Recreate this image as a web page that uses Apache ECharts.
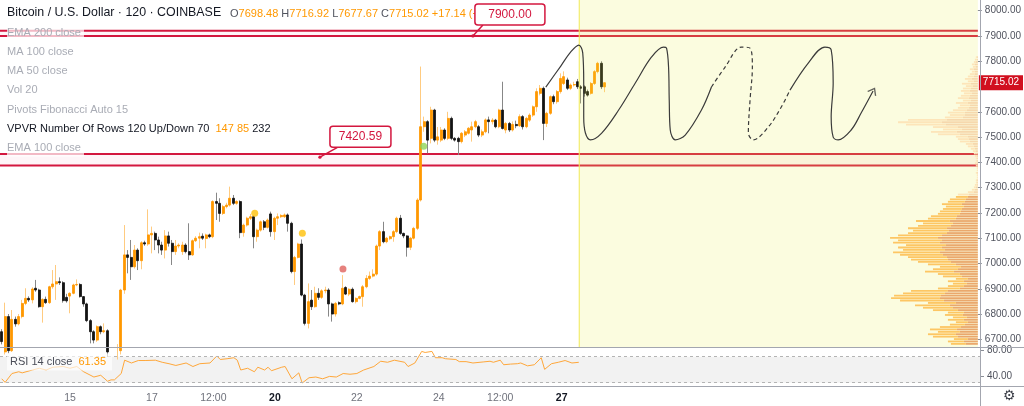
<!DOCTYPE html>
<html>
<head>
<meta charset="utf-8">
<script src="https://cdn.jsdelivr.net/npm/echarts@6/dist/echarts.min.js"></script>
<style>
  html, body { margin: 0; padding: 0; background: #fff; }
  #chart { width: 1024px; height: 406px; }
</style>
</head>
<body>
<div id="chart"></div>
<script>
// BTCUSD 2h, Coinbase, Apr 13 - Apr 27 2020, plus forecast space on the right
const barCount = 287;
const startTime = Date.UTC(2020, 3, 13, 8);
const timeTickIndex = [20, 44, 62, 80, 104, 128, 146, 164];
const timeTickText = ['15', '17', '12:00', '20', '22', '24', '12:00', '27'];
const boldTicks = ['20', '27'];
const priceTicks = [6700, 6800, 6900, 7000, 7100, 7200, 7300, 7400, 7500, 7600, 7800, 7900, 8000];
const rsiTicks = [40, 80];

// [open, high, low, close]
const candles = [
  [6730, 6740, 6680, 6691], [6650, 6845, 6640, 6790], [6790, 6800, 6645, 6655], [6655, 6816, 6650, 6779],
  [6779, 6790, 6750, 6761], [6761, 6800, 6755, 6790], [6790, 6856, 6783, 6842], [6842, 6902, 6835, 6862],
  [6862, 6870, 6848, 6856], [6856, 6906, 6842, 6899], [6902, 6935, 6888, 6895], [6895, 6900, 6825, 6829],
  [6829, 6862, 6766, 6858], [6858, 6869, 6840, 6845], [6845, 6912, 6840, 6908], [6908, 6974, 6900, 6919],
  [6919, 6994, 6856, 6928], [6928, 6945, 6915, 6924], [6924, 6930, 6845, 6853], [6866, 6880, 6845, 6852],
  [6871, 6886, 6803, 6882], [6882, 6920, 6878, 6915], [6915, 6937, 6910, 6917], [6917, 6922, 6865, 6869],
  [6869, 6871, 6829, 6840], [6840, 6845, 6768, 6774], [6774, 6780, 6684, 6730], [6730, 6736, 6684, 6697],
  [6697, 6755, 6690, 6750], [6750, 6755, 6720, 6730], [6730, 6763, 6724, 6734], [6734, 6740, 6630, 6650],
  [6650, 6660, 6600, 6620], [6620, 6655, 6600, 6640], [6640, 6681, 6620, 6655], [6655, 6900, 6640, 6895],
  [6895, 7152, 6880, 7034], [7034, 7053, 6961, 7024], [7024, 7093, 6935, 6987], [6987, 7073, 6980, 7053],
  [7053, 7060, 6974, 7011], [7011, 7088, 6977, 7082], [7082, 7090, 7070, 7077], [7077, 7214, 7070, 7113],
  [7113, 7146, 7040, 7119], [7119, 7126, 7053, 7093], [7093, 7106, 7040, 7073], [7073, 7086, 7034, 7053],
  [7053, 7132, 7020, 7109], [7109, 7126, 7067, 7080], [7080, 7093, 6994, 7047], [7047, 7093, 7034, 7069],
  [7069, 7080, 7060, 7073], [7047, 7086, 7034, 7073], [7073, 7080, 7040, 7047], [7047, 7159, 7014, 7034],
  [7034, 7095, 7030, 7090], [7090, 7108, 7085, 7100], [7100, 7122, 7060, 7106], [7108, 7119, 7093, 7100],
  [7099, 7118, 7060, 7113], [7113, 7118, 7100, 7106], [7106, 7250, 7100, 7245], [7245, 7280, 7172, 7238],
  [7238, 7258, 7165, 7198], [7198, 7232, 7192, 7225], [7225, 7240, 7218, 7231], [7231, 7304, 7225, 7258],
  [7258, 7271, 7231, 7238], [7238, 7250, 7232, 7245], [7245, 7250, 7100, 7122], [7122, 7158, 7106, 7152],
  [7152, 7185, 7146, 7179], [7179, 7196, 7172, 7185], [7185, 7190, 7060, 7106], [7106, 7138, 7086, 7132],
  [7132, 7170, 7126, 7165], [7165, 7172, 7132, 7143], [7143, 7178, 7138, 7172], [7196, 7205, 7106, 7126],
  [7126, 7185, 7093, 7179], [7179, 7198, 7152, 7185], [7185, 7195, 7180, 7190], [7185, 7198, 7180, 7192],
  [7192, 7198, 7126, 7159], [7159, 7165, 6961, 6968], [6968, 7030, 6915, 7024], [7024, 7082, 7020, 7077],
  [7077, 7095, 6870, 6875], [6875, 6880, 6755, 6763], [6763, 6921, 6743, 6849], [6855, 6895, 6816, 6829],
  [6829, 6908, 6825, 6882], [6882, 6902, 6856, 6866], [6866, 6898, 6860, 6892], [6892, 6908, 6882, 6895],
  [6895, 6902, 6790, 6840], [6840, 6845, 6770, 6800], [6800, 6848, 6790, 6842], [6845, 6850, 6835, 6840],
  [6840, 6954, 6835, 6902], [6905, 6910, 6875, 6879], [6879, 6902, 6871, 6898], [6898, 6905, 6845, 6849],
  [6849, 6866, 6842, 6862], [6862, 6873, 6858, 6869], [6869, 6915, 6829, 6908], [6908, 6954, 6902, 6941],
  [6941, 6968, 6935, 6950], [6950, 6977, 6945, 6958], [6958, 7075, 6952, 7069], [7069, 7132, 7053, 7126],
  [7126, 7165, 7080, 7086], [7086, 7105, 7080, 7100], [7098, 7110, 7092, 7106], [7106, 7132, 7086, 7126],
  [7126, 7185, 7120, 7179], [7179, 7192, 7113, 7119], [7119, 7122, 7100, 7109], [7109, 7112, 7027, 7064],
  [7064, 7105, 7053, 7100], [7100, 7145, 7095, 7139], [7139, 7258, 7132, 7251], [7251, 7779, 7245, 7541],
  [7541, 7581, 7521, 7561], [7561, 7567, 7436, 7488], [7495, 7620, 7475, 7607], [7607, 7612, 7480, 7488],
  [7488, 7540, 7470, 7501], [7488, 7540, 7480, 7528], [7528, 7535, 7488, 7495], [7495, 7600, 7488, 7574],
  [7574, 7581, 7488, 7495], [7495, 7500, 7482, 7488], [7495, 7501, 7429, 7482], [7482, 7520, 7475, 7515],
  [7508, 7528, 7500, 7521], [7515, 7540, 7510, 7535], [7528, 7561, 7482, 7541], [7541, 7568, 7535, 7561],
  [7541, 7548, 7500, 7508], [7508, 7530, 7500, 7521], [7521, 7574, 7515, 7568], [7568, 7581, 7515, 7561],
  [7561, 7575, 7550, 7567], [7567, 7572, 7535, 7541], [7541, 7612, 7535, 7607], [7607, 7719, 7530, 7534],
  [7528, 7560, 7515, 7554], [7554, 7560, 7520, 7528], [7528, 7562, 7522, 7550], [7550, 7565, 7535, 7545],
  [7545, 7590, 7540, 7581], [7581, 7587, 7530, 7541], [7541, 7580, 7535, 7574], [7567, 7594, 7560, 7587],
  [7587, 7625, 7580, 7620], [7620, 7693, 7600, 7680], [7673, 7706, 7665, 7693], [7693, 7700, 7488, 7554],
  [7554, 7600, 7540, 7594], [7594, 7665, 7588, 7660], [7660, 7668, 7630, 7640], [7640, 7686, 7632, 7680],
  [7680, 7752, 7672, 7732], [7712, 7760, 7706, 7739], [7726, 7735, 7686, 7693], [7693, 7712, 7686, 7706],
  [7706, 7719, 7700, 7708], [7719, 7730, 7690, 7699], [7699, 7706, 7633, 7693], [7699, 7705, 7660, 7673],
  [7680, 7688, 7660, 7666], [7673, 7718, 7668, 7712], [7712, 7765, 7706, 7759], [7759, 7798, 7752, 7792],
  [7792, 7800, 7690, 7699], [7698.48, 7716.92, 7677.67, 7715.02]
];
const lastPrice = 7715.02;

// RSI 14: [bar index, value]
const rsiPoints = [
  [0, 36.0], [1, 30.5], [3, 44.1], [5, 46.8], [6, 45.1], [9, 49.5], [11, 52.2], [13, 49.5], [15, 53.8],
  [18, 54.9], [20, 52.2], [22, 54.9], [24, 46.8], [27, 38.7], [29, 41.4], [31, 32.2], [32, 34.3], [33, 34.3],
  [35, 44.1], [36, 64.6], [38, 60.3], [40, 64.1], [42, 64.1], [45, 64.6], [47, 61.4], [49, 59.2], [51, 56.5],
  [54, 60.3], [56, 54.9], [58, 59.2], [61, 60.3], [63, 71.1], [64, 65.7], [66, 66.8], [68, 68.4], [69, 64.6],
  [70, 49.5], [72, 52.2], [74, 46.8], [75, 53.8], [77, 49.5], [78, 53.8], [79, 48.4], [82, 53.8], [83, 54.9],
  [85, 36.0], [87, 45.1], [88, 29.5], [90, 37.6], [92, 38.7], [94, 36.0], [96, 39.7], [98, 38.7], [100, 44.1],
  [102, 43.0], [104, 44.1], [106, 49.5], [109, 54.9], [111, 63.0], [113, 61.4], [115, 64.6], [118, 61.4],
  [119, 54.9], [121, 60.3], [123, 78.1], [124, 76.5], [126, 78.1], [127, 68.4], [129, 68.4], [130, 66.8],
  [133, 65.7], [134, 62.4], [136, 62.4], [138, 60.3], [141, 61.9], [143, 63.0], [144, 61.4], [146, 64.6],
  [147, 57.6], [149, 58.6], [151, 59.2], [152, 60.3], [154, 55.9], [156, 57.6], [158, 68.4], [159, 50.5],
  [161, 59.2], [163, 61.4], [165, 64.1], [167, 60.3], [169, 61.35]
];

// pivot markers: [bar position, price, kind]
const pivots = [[74.77, 7198.5, 'high'], [88.74, 7119.5, 'high'], [100.66, 6978, 'low'], [124.35, 7464, 'up']];

// drawn zones (rectangles) and callouts
const zones = [[7900, 7921], [7388, 7433]];
const callouts = [
  { text: '7900.00', at: 138.8, price: 7900 },
  { text: '7420.59', at: 93.9, price: 7420.59 }
];
const forecastStart = 169.86;

// forecast path drawn by hand: [bar position, price]
const waveA = [
  [160.19, 7698], [164.59, 7781], [167.52, 7837], [169.86, 7864], [171.03, 7833], [171.32, 7714],
  [171.32, 7580], [171.82, 7516], [173.29, 7489], [176.6, 7516], [181.57, 7607], [186.46, 7714],
  [191.24, 7817], [194.75, 7856], [195.63, 7852], [196.22, 7777], [196.42, 7647], [196.72, 7528],
  [198.18, 7489], [201.11, 7508], [205.88, 7607], [208.81, 7698]
];
const waveB = [
  [208.81, 7698], [212.82, 7777], [217.59, 7856], [220.14, 7852], [220.82, 7777], [220.14, 7647],
  [219.64, 7516], [221.11, 7489], [225.5, 7540], [229.31, 7619], [231.86, 7686]
];
const waveC = [
  [231.86, 7686], [237.22, 7793], [242.11, 7856], [243.95, 7845], [244.54, 7714], [243.95, 7580],
  [244.54, 7500], [246.0, 7489], [249.81, 7528], [252.74, 7595], [256.25, 7682]
];

// visible range volume profile, 120 rows from the bottom
const vpLow = 6676;
const vpStep = 9.53;
const vaTop = 7275;
const vpUp = [
  15, 16, 14, 25, 28, 22, 27, 21, 15, 12, 16, 14, 18, 16, 25, 30, 35, 28, 44, 49,
  47, 42, 37, 22, 16, 14, 16, 12, 19, 22, 29, 25, 21, 28, 33, 37, 39, 43, 47, 42,
  44, 40, 47, 44, 48, 44, 39, 36, 39, 33, 30, 34, 28, 26, 22, 21, 19, 18, 20, 17,
  16, 12, 11, 6, 3, 2, 2, 1, 1, 1, 1, 1, 1, 1, 1, 2, 1, 1, 2, 2,
  3, 4, 6, 7, 10, 11, 12, 22, 26, 19, 25, 40, 44, 39, 18, 15, 17, 14, 11, 10,
  12, 8, 11, 9, 8, 9, 8, 7, 9, 6, 7, 6, 5, 3, 4, 3, 3, 2, 2, 1
];
const vpDown = [
  12, 14, 10, 20, 22, 18, 21, 17, 13, 10, 14, 11, 15, 14, 20, 25, 28, 22, 34, 38,
  37, 33, 30, 18, 14, 11, 14, 10, 16, 18, 24, 20, 17, 22, 27, 30, 31, 35, 38, 33,
  36, 32, 38, 36, 40, 36, 31, 29, 31, 27, 25, 28, 22, 21, 18, 17, 16, 14, 16, 13,
  12, 10, 9, 4, 3, 2, 1, 1, 1, 0, 0, 1, 0, 0, 1, 1, 1, 1, 1, 2,
  2, 3, 4, 5, 8, 9, 10, 18, 21, 16, 20, 32, 36, 31, 15, 13, 13, 11, 9, 8,
  10, 7, 9, 8, 6, 8, 7, 5, 7, 4, 6, 4, 3, 3, 4, 2, 3, 2, 1, 1
];

const FONT = "'Liberation Sans', Arial, sans-serif";
const RED = '#d3173f';
const ORANGE = '#ff9800';
const pivotColors = { high: '#ffc107', low: '#e0625c', up: '#8fd45a' };

const categories = [];
for (let k = 0; k < barCount; k++) {
  categories.push(new Date(startTime + k * 7200000).toISOString().slice(0, 16));
}

const chart = echarts.init(document.getElementById('chart'));

const option = {
  animation: false,
  grid: [
    { left: 0, right: 44, top: 0, height: 347 },
    { left: 0, right: 44, top: 347, height: 39 }
  ],
  xAxis: [
    { type: 'category', gridIndex: 0, data: categories, show: false },
    { type: 'value', gridIndex: 0, min: 0, max: barCount, show: false },
    { type: 'value', gridIndex: 0, min: 0, max: 980, inverse: true, show: false },
    {
      type: 'category', gridIndex: 1, data: categories,
      axisLine: { show: false }, axisTick: { show: false },
      axisLabel: {
        interval: (i) => timeTickIndex.includes(i),
        margin: 7,
        formatter: (v, i) => {
          const t = timeTickText[timeTickIndex.indexOf(i)];
          return boldTicks.includes(t) ? '{b|' + t + '}' : '{n|' + t + '}';
        },
        rich: {
          n: { color: '#6f727c', fontSize: 10.5, fontFamily: FONT },
          b: { color: '#131722', fontSize: 10.5, fontWeight: 'bold', fontFamily: FONT }
        }
      }
    }
  ],
  yAxis: [
    {
      type: 'value', gridIndex: 0, position: 'right', min: 6669.6, max: 8042.3,
      splitLine: { show: false }, axisLine: { show: false, onZero: false },
      axisTick: { show: true, customValues: priceTicks, length: 4, lineStyle: { color: '#8a8e97' } },
      axisLabel: {
        customValues: priceTicks, formatter: (v) => v.toFixed(2),
        color: '#50535e', fontSize: 10, fontFamily: FONT, margin: 7
      }
    },
    {
      type: 'value', gridIndex: 1, position: 'right', min: 24.9, max: 84.9,
      splitLine: { show: false }, axisLine: { show: false, onZero: false },
      axisTick: { show: true, customValues: rsiTicks, length: 4, lineStyle: { color: '#8a8e97' } },
      axisLabel: {
        customValues: rsiTicks, formatter: (v) => v.toFixed(2),
        color: '#50535e', fontSize: 10, fontFamily: FONT, margin: 7
      }
    }
  ],
  series: [
    {
      // support / resistance rectangles
      type: 'custom', xAxisIndex: 1, yAxisIndex: 0, z: 1, silent: true,
      data: zones,
      renderItem: (params, api) => {
        const a = api.coord([0, api.value(1)]);
        const b = api.coord([barCount, api.value(0)]);
        return {
          type: 'group', children: [
            { type: 'rect', shape: { x: a[0], y: a[1], width: b[0] - a[0], height: b[1] - a[1] }, style: { fill: 'rgba(233,30,99,0.045)' } },
            { type: 'line', shape: { x1: a[0], y1: a[1], x2: b[0], y2: a[1] }, style: { stroke: RED, lineWidth: 2 } },
            { type: 'line', shape: { x1: a[0], y1: b[1], x2: b[0], y2: b[1] }, style: { stroke: RED, lineWidth: 2 } }
          ]
        };
      }
    },
    {
      // wicks
      type: 'candlestick', xAxisIndex: 0, yAxisIndex: 0, z: 3, barWidth: 1, silent: true,
      data: candles.map((c) => [c[0], c[3], c[2], c[1]]),
      itemStyle: { color: '#ffcb80', color0: '#878787', borderColor: '#ffcb80', borderColor0: '#878787', borderWidth: 1 }
    },
    {
      // bodies
      type: 'candlestick', xAxisIndex: 0, yAxisIndex: 0, z: 4, barWidth: 2.5, silent: true,
      data: candles.map((c) => [c[0], c[3], Math.min(c[0], c[3]), Math.max(c[0], c[3])]),
      itemStyle: { color: ORANGE, color0: '#131313', borderColor: ORANGE, borderColor0: '#131313', borderWidth: 0.8 },
      markLine: {
        silent: true, symbol: 'none',
        lineStyle: { color: 'rgba(0,0,0,0)', width: 0 },
        label: {
          show: true, position: 'end', distance: 1, formatter: lastPrice.toFixed(2),
          color: '#fff', backgroundColor: '#d10f1f', padding: [3, 4, 2, 4], fontSize: 10, fontFamily: FONT
        },
        data: [{ yAxis: lastPrice }]
      }
    },
    {
      type: 'scatter', xAxisIndex: 1, yAxisIndex: 0, z: 5, symbolSize: 7, silent: true,
      data: pivots.map((p) => ({ value: [p[0], p[1]], itemStyle: { color: pivotColors[p[2]] } }))
    },
    {
      // forecast area
      type: 'custom', xAxisIndex: 1, yAxisIndex: 0, z: 6, silent: true,
      data: [[forecastStart, barCount]],
      renderItem: (params, api) => {
        const cs = params.coordSys;
        const x0 = api.coord([api.value(0), 7000])[0];
        const x1 = api.coord([api.value(1), 7000])[0];
        return {
          type: 'group', children: [
            { type: 'rect', shape: { x: x0, y: cs.y, width: x1 - x0, height: cs.height }, style: { fill: 'rgba(235,240,80,0.18)' } },
            { type: 'line', shape: { x1: x0 + 0.5, y1: cs.y, x2: x0 + 0.5, y2: cs.y + cs.height }, style: { stroke: '#f1ea5c', lineWidth: 1 } }
          ]
        };
      }
    },
    {
      // VPVR
      type: 'custom', xAxisIndex: 2, yAxisIndex: 0, z: 7, silent: true,
      data: vpUp.map((u, i) => [i, u, vpDown[i]]),
      renderItem: (params, api) => {
        const row = api.value(0), up = api.value(1), down = api.value(2);
        const lo = vpLow + row * vpStep, hi = lo + vpStep;
        const inVA = hi <= vaTop;
        const a = api.coord([0, hi]);
        const b = api.coord([down, lo]);
        const c = api.coord([down + up, lo]);
        const h = Math.max(0.8, b[1] - a[1] - 0.6);
        return {
          type: 'group', children: [
            { type: 'rect', shape: { x: b[0], y: a[1], width: a[0] - b[0], height: h }, style: { fill: inVA ? '#eaa86c' : '#f6d8ad' } },
            { type: 'rect', shape: { x: c[0], y: a[1], width: b[0] - c[0], height: h }, style: { fill: inVA ? '#fdc663' : '#fde5b9' } }
          ]
        };
      }
    },
    {
      type: 'line', xAxisIndex: 1, yAxisIndex: 0, z: 8, silent: true, smooth: 0.35, symbol: 'none',
      data: waveA, lineStyle: { color: '#3b3b3b', width: 1.2 }
    },
    {
      type: 'line', xAxisIndex: 1, yAxisIndex: 0, z: 8, silent: true, smooth: 0.35, symbol: 'none',
      data: waveB, lineStyle: { color: '#3b3b3b', width: 1.2, type: [4, 3] }
    },
    {
      type: 'line', xAxisIndex: 1, yAxisIndex: 0, z: 8, silent: true, smooth: 0.35, symbol: 'none',
      data: waveC, lineStyle: { color: '#3b3b3b', width: 1.2 }
    },
    {
      type: 'scatter', xAxisIndex: 1, yAxisIndex: 0, z: 9, silent: true,
      data: [waveC[waveC.length - 1]],
      symbol: 'path://M0,10L5,0L10,10', symbolSize: [9, 6], symbolRotate: -29,
      itemStyle: { color: 'transparent', borderColor: '#3b3b3b', borderWidth: 1.2 }
    },
    {
      // RSI
      type: 'line', xAxisIndex: 3, yAxisIndex: 1, z: 3, silent: true, symbol: 'none',
      data: rsiPoints, lineStyle: { color: '#ffa73a', width: 1 },
      markArea: { silent: true, itemStyle: { color: '#f2f2f2' }, data: [[{ yAxis: 30 }, { yAxis: 70 }]] },
      markLine: {
        silent: true, symbol: 'none', label: { show: false },
        lineStyle: { color: '#b4b4b4', type: [3, 3], width: 1 },
        data: [{ yAxis: 30 }, { yAxis: 70 }]
      }
    }
  ]
};

chart.setOption(option);

// header, legends, separators and callouts
const muted = '#a9acb5';
const dark = '#131722';
const txt = (x, y, text, rich, extra) => Object.assign({
  type: 'text', x: x, y: y, z: 100, silent: true,
  style: Object.assign({ text: text, rich: rich, verticalAlign: 'middle', fontFamily: FONT, fontSize: 11, fill: dark }, extra || {})
});
const legendRows = [
  ['EMA 200 close', 32.5, true],
  ['MA 100 close', 52.3, false],
  ['MA 50 close', 71.3, false],
  ['Vol 20', 90.3, false],
  ['Pivots Fibonacci Auto 15', 110, false]
];
const g = [];
g.push({ type: 'line', z: 90, silent: true, shape: { x1: 0, y1: 347.5, x2: 1024, y2: 347.5 }, style: { stroke: '#a3a6af', lineWidth: 1 } });
g.push({ type: 'line', z: 90, silent: true, shape: { x1: 0, y1: 386.5, x2: 1024, y2: 386.5 }, style: { stroke: '#a3a6af', lineWidth: 1 } });
g.push({ type: 'line', z: 90, silent: true, shape: { x1: 980.5, y1: 0, x2: 980.5, y2: 406 }, style: { stroke: '#a3a6af', lineWidth: 1 } });

g.push(txt(7, 13, 'Bitcoin / U.S. Dollar · 120 · COINBASE', null, { fontSize: 12.4 }));
g.push(txt(230, 14,
  '{k|O}{v|7698.48} {k|H}{v|7716.92} {k|L}{v|7677.67} {k|C}{v|7715.02} {v|+17.14 (+0.22%)}',
  { k: { fill: '#50535e', fontSize: 11, fontFamily: FONT }, v: { fill: ORANGE, fontSize: 11, fontFamily: FONT } }));
legendRows.forEach((r) => {
  g.push(txt(7, r[1], r[0], null, r[2]
    ? { fill: muted, backgroundColor: 'rgba(255,255,255,0.7)', padding: [2, 3, 2, 0] }
    : { fill: muted }));
});
g.push(txt(7, 129,
  '{d|VPVR Number Of Rows 120 Up/Down 70}  {o|147} {o|85} {d|232}',
  { d: { fill: dark, fontSize: 11, fontFamily: FONT }, o: { fill: ORANGE, fontSize: 11, fontFamily: FONT } }));
g.push(txt(7, 148.3, 'EMA 100 close', null, { fill: muted, backgroundColor: 'rgba(255,255,255,0.7)', padding: [3, 3, 3, 0] }));
g.push(txt(7, 362,
  '{d|RSI 14 close}  {o|61.35}',
  { d: { fill: '#4a4d57', fontSize: 11, fontFamily: FONT }, o: { fill: ORANGE, fontSize: 11, fontFamily: FONT } },
  { backgroundColor: 'rgba(255,255,255,0.65)', padding: [3, 6, 3, 3] }));
g.push(txt(1003, 396, '⚙', null, { fontFamily: 'DejaVu Sans', fontSize: 14, fill: '#3c3f48' }));

callouts.forEach((c, i) => {
  const p = chart.convertToPixel({ xAxisIndex: 1, yAxisIndex: 0 }, [c.at, c.price]);
  const bx = p[0] + (i === 0 ? 2 : 10);
  const by = p[1] - (i === 0 ? 32 : 31);
  const bw = i === 0 ? 70 : 61;
  g.push({ type: 'line', z: 110, silent: true, shape: { x1: p[0], y1: p[1], x2: bx + 8, y2: by + 21 }, style: { stroke: RED, lineWidth: 1.5 } });
  g.push({ type: 'circle', z: 110, silent: true, shape: { cx: p[0], cy: p[1], r: 1.6 }, style: { fill: RED } });
  g.push({ type: 'rect', z: 111, silent: true, shape: { x: bx, y: by, width: bw, height: 21, r: 3 }, style: { fill: '#fff', stroke: RED, lineWidth: 1.5 } });
  g.push({
    type: 'text', z: 112, silent: true, x: bx + bw / 2, y: by + 11,
    style: { text: c.text, fill: RED, fontSize: 12, fontFamily: FONT, align: 'center', verticalAlign: 'middle' }
  });
});

chart.setOption({ graphic: g });
</script>
</body>
</html>
